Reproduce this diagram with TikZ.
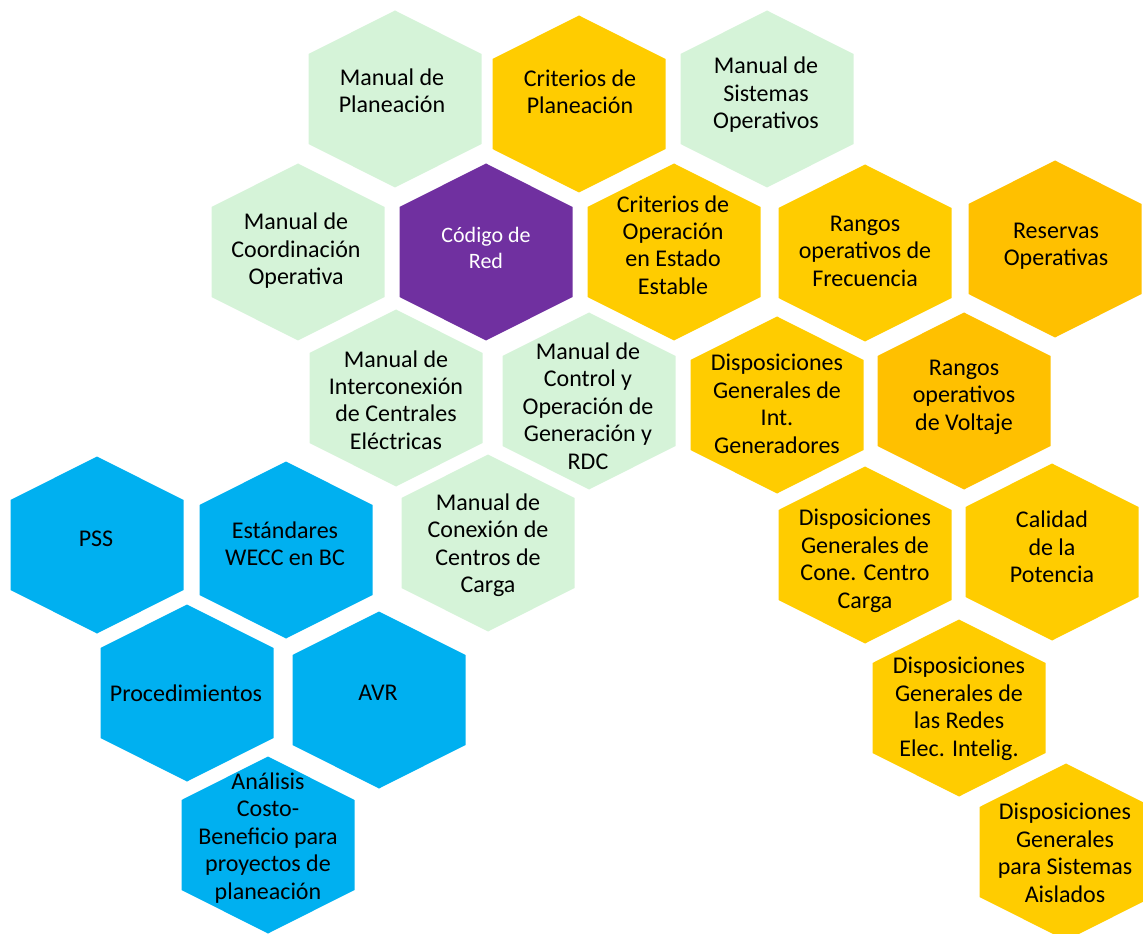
\documentclass[tikz,border=0pt]{standalone}
\usepackage{fontspec}
\setmainfont{Carlito}
\definecolor{hexgreen}{RGB}{213,243,216}
\definecolor{hexgold}{RGB}{255,204,0}
\definecolor{hexamber}{RGB}{255,192,0}
\definecolor{hexpurple}{RGB}{112,48,160}
\definecolor{hexblue}{RGB}{0,176,240}
\tikzset{%
    txt/.style={align=center, inner sep=0pt, text=black, font=\fontsize{18}{20.6}\selectfont},
    txtw/.style={txt, text=white, font=\fontsize{16.5}{19.5}\selectfont},
}
% filled hexagon, pointy top, centred at (#1,#2)
\newcommand{\hexa}[3]{%
    \fill[#3] (#1,#2) +(0,-88.5) -- +(86.5,-45) -- +(86.5,45) -- +(0,88.5) -- +(-86.5,45) -- +(-86.5,-45) -- cycle;}

\begin{document}
\begin{tikzpicture}[x=0.75pt,y=-0.75pt]
    \useasboundingbox (0,0) rectangle (1143,934);
    \clip (0,0) rectangle (1143,934);
    % top row
    \hexa{395}{99}{hexgreen}
    \hexa{579}{104}{hexgold}
    \hexa{767}{99}{hexgreen}
    \node[txt] (manplan) at (392,91) {Manual de\\Planeación};
    \node[txt] (critplan) at (580,92) {Criterios de\\Planeación};
    \node[txt] (mansis) at (766,95) {Manual de\\Sistemas\\Operativos};
    % second row
    \hexa{298}{252}{hexgreen}
    \hexa{486}{252}{hexpurple}
    \hexa{674}{252}{hexgold}
    \hexa{865}{253}{hexgold}
    \hexa{1055}{249}{hexamber}
    \node[txt] (mancoord) at (296,251) {Manual de\\Coordinación\\Operativa};
    \node[txtw] (codred) at (486,248) {Código de\\Red};
    \node[txt] (critop) at (673,245) {Criterios de\\Operación\\en Estado\\Estable};
    \node[txt] (rangfrec) at (865,251) {Rangos\\operativos de\\Frecuencia};
    \node[txt] (reservas) at (1056,246) {Reservas\\Operativas};
    % third row
    \hexa{396}{398}{hexgreen}
    \hexa{589}{401}{hexgreen}
    \hexa{777}{405}{hexgold}
    \hexa{964}{401}{hexamber}
    \node[txt] (maninter) at (396,400) {Manual de\\Interconexión\\de Centrales\\Eléctricas};
    \node[txt] (mancontrol) at (588,406) {Manual de\\Control y\\Operación de\\Generación y\\RDC};
    \node[txt] (dispgen) at (777,404) {Disposiciones\\Generales de\\Int.\\Generadores};
    \node[txt] (rangvolt) at (964,397) {Rangos\\operativos\\de Voltaje};
    % fourth row
    \hexa{97}{545}{hexblue}
    \hexa{286}{550}{hexblue}
    \hexa{488}{543}{hexgreen}
    \hexa{865}{555}{hexgold}
    \hexa{1052}{552}{hexgold}
    \node[txt] (pss) at (96,539) {PSS};
    \node[txt] (wecc) at (285,544) {Estándares\\WECC en BC};
    \node[txt] (mancon) at (488,545) {Manual de\\Conexión de\\Centros de\\Carga};
    \node[txt] (dispcarga) at (865,561) {Disposiciones\\Generales de\\Cone. Centro\\Carga};
    \node[txt] (calidad) at (1052,547) {Calidad\\de la\\Potencia};
    % fifth row
    \hexa{187}{693}{hexblue}
    \hexa{379}{700}{hexblue}
    \hexa{959}{708}{hexgold}
    \node[txt] (proced) at (186,693) {Procedimientos};
    \node[txt] (avr) at (378,693) {AVR};
    \node[txt] (dispredes) at (959,709) {Disposiciones\\Generales de\\las Redes\\Elec. Intelig.};
    % bottom
    \hexa{268}{845}{hexblue}
    \hexa{1066}{852}{hexgold}
    \node[txt] (analisis) at (268,838) {Análisis\\Costo-\\Beneficio para\\proyectos de\\planeación};
    \node[txt] (dispaisl) at (1065,853) {Disposiciones\\Generales\\para Sistemas\\Aislados};
\end{tikzpicture}
\end{document}
